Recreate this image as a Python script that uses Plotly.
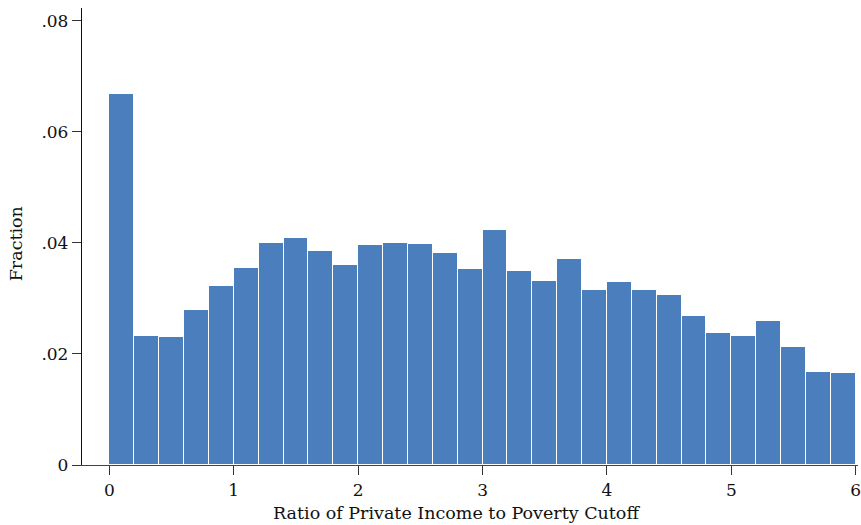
import plotly.graph_objects as go

bin_left = [0.0, 0.2, 0.4, 0.6, 0.8, 1.0, 1.2, 1.4, 1.6, 1.8,
            2.0, 2.2, 2.4, 2.6, 2.8, 3.0, 3.2, 3.4, 3.6, 3.8,
            4.0, 4.2, 4.4, 4.6, 4.8, 5.0, 5.2, 5.4, 5.6, 5.8]
bin_width = 0.2
fraction = [0.0668, 0.0232, 0.0231, 0.0279, 0.0323, 0.0355, 0.0400, 0.0409, 0.0386, 0.0360,
            0.0396, 0.0400, 0.0398, 0.0382, 0.0353, 0.0423, 0.0350, 0.0332, 0.0371, 0.0315,
            0.0330, 0.0315, 0.0306, 0.0268, 0.0238, 0.0232, 0.0259, 0.0213, 0.0168, 0.0166]

x_ticks = [0, 1, 2, 3, 4, 5, 6]
x_ticklabels = ["0", "1", "2", "3", "4", "5", "6"]
y_ticks = [0, 0.02, 0.04, 0.06, 0.08]
y_ticklabels = ["0", ".02", ".04", ".06", ".08"]
x_title = "Ratio of Private Income to Poverty Cutoff"
y_title = "Fraction"

font_family = "DejaVu Serif"

fig = go.Figure(go.Bar(
    x=[b + bin_width / 2 for b in bin_left],
    y=fraction,
    width=[bin_width] * len(bin_left),
    marker=dict(color="#4a7ebd", line=dict(color="white", width=1)),
    hoverinfo="x+y",
))

fig.update_layout(
    width=861, height=525,
    margin=dict(l=82, r=3, t=8, b=60),
    plot_bgcolor="white", paper_bgcolor="white",
    font=dict(family=font_family, size=17, color="#111"),
    bargap=0,
    showlegend=False,
    xaxis=dict(
        range=[-0.22, 6.018],
        tickvals=x_ticks, ticktext=x_ticklabels,
        showline=True, linecolor="#444", linewidth=1.3,
        ticks="outside", ticklen=9, tickcolor="#333", tickwidth=1.3,
        showgrid=False, zeroline=False, automargin=False,
        ticklabeloverflow="allow",
    ),
    yaxis=dict(
        range=[0, 0.0823],
        tickvals=y_ticks, ticktext=y_ticklabels,
        showline=True, linecolor="#111", linewidth=1.3,
        ticks="outside", ticklen=9, tickcolor="#333", tickwidth=1.3,
        showgrid=False, zeroline=False, automargin=False,
        ticklabeloverflow="allow",
    ),
    annotations=[
        dict(text=x_title, xref="paper", yref="paper", x=0.482, y=-0.105,
             xanchor="center", yanchor="middle", showarrow=False,
             font=dict(size=17.5, family=font_family, color="#111")),
        dict(text=y_title, xref="paper", yref="paper", x=-0.085, y=0.483,
             xanchor="center", yanchor="middle", showarrow=False, textangle=-90,
             font=dict(size=17.5, family=font_family, color="#111")),
    ],
)

fig.write_html("out.html")
